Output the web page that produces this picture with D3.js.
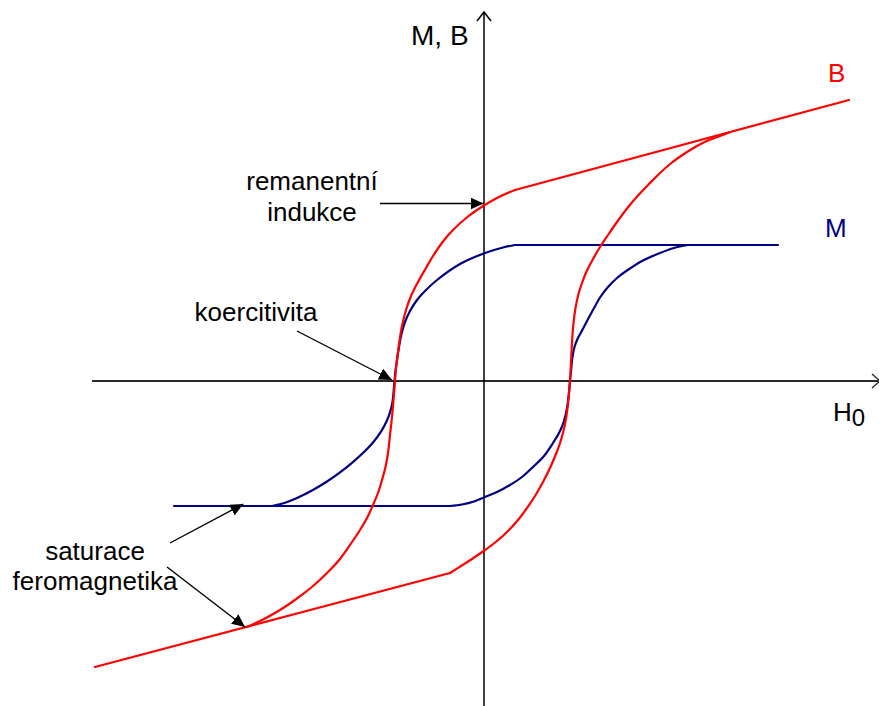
<!DOCTYPE html>
<html>
<head>
<meta charset="utf-8">
<script src="https://cdn.jsdelivr.net/npm/d3@7"></script>
<style>
  html, body { margin: 0; padding: 0; background: #fff; }
  svg { display: block; }
  text { font-family: "Liberation Sans", Arial, sans-serif; fill: #000; }
</style>
</head>
<body>
<svg id="chart" width="879" height="706"></svg>
<script>
// Hysteresis loop of a ferromagnet: magnetisation M and induction B versus field H0
// (arbitrary units). Every branch is a straight saturation section plus a curved section.

// M: saturation plateaus
const mLow = [[-31.0, -12.5], [-3.4, -12.5]];
const mHigh = [[3.1, 13.6], [29.4, 13.6]];
// M: rising curve (leaves the low plateau, joins the high plateau)
const mUpCurve = [
  [-3.4, -12.5], [-2.2, -12.35], [-1.0, -12.05], [0.1, -11.6], [1.3, -11.1],
  [2.6, -10.4], [3.8, -9.6], [4.9, -8.6], [6.0, -7.5], [6.9, -6.2],
  [7.55, -5.1], [8.0, -4.0], [8.3, -2.7], [8.47, -1.4], [8.6, 0.0],
  [8.73, 1.3], [8.86, 2.5], [9.05, 3.4], [9.35, 4.2], [9.75, 4.95],
  [10.3, 6.0], [10.95, 7.2], [11.6, 8.35], [12.4, 9.4], [13.3, 10.3],
  [14.3, 11.05], [15.9, 12.05], [17.6, 12.8], [19.0, 13.3], [20.4, 13.6]
];
// M: falling curve (leaves the high plateau, joins the low plateau)
const mDownCurve = [
  [3.1, 13.6], [1.9, 13.35], [0.1, 12.8], [-2.4, 11.7], [-4.7, 10.1],
  [-5.9, 9.0], [-6.7, 8.1], [-7.4, 7.0], [-7.9, 5.9], [-8.25, 4.7],
  [-8.5, 3.4], [-8.7, 2.1], [-8.85, 1.0], [-8.95, 0.0], [-9.15, -2.09],
  [-9.4, -3.14], [-9.75, -4.05], [-10.3, -5.07], [-11.1, -6.15], [-12.0, -7.1],
  [-13.2, -8.18], [-14.4, -9.14], [-15.7, -10.05], [-17.2, -10.95], [-18.7, -11.7],
  [-19.9, -12.18], [-21.2, -12.5]
];

// B: saturation lines
const bLow = [[-38.9, -28.6], [-3.4, -19.2]];
const bHigh = [[3.1, 19.1], [36.5, 28.1]];
// B: rising curve
const bUpCurve = [
  [-3.4, -19.2], [-2.3, -18.5], [-1.2, -17.8], [0.1, -16.9], [1.3, -16.0],
  [2.4, -15.0], [3.4, -13.9], [4.3, -12.7], [5.1, -11.5], [5.9, -10.1],
  [6.6, -8.7], [7.2, -7.3], [7.7, -5.9], [8.1, -4.3], [8.4, -2.3],
  [8.6, 0.0], [8.7, 1.9], [8.8, 3.8], [8.93, 5.6], [9.15, 7.3],
  [9.45, 8.7], [9.8, 9.8], [10.27, 11.0], [10.9, 12.2], [11.6, 13.4],
  [12.4, 14.6], [13.3, 15.9], [14.3, 17.25], [15.4, 18.55], [16.5, 19.7],
  [17.6, 20.8], [18.8, 21.85], [20.0, 22.7], [21.2, 23.45], [22.4, 24.05],
  [23.6, 24.5], [24.5, 24.85]
];
// B: falling curve
const bDownCurve = [
  [3.1, 19.1], [1.6, 18.45], [0.0, 17.55], [-1.6, 16.45], [-3.1, 15.1],
  [-4.1, 13.95], [-5.1, 12.5], [-5.8, 11.3], [-6.6, 9.9], [-7.3, 8.5],
  [-7.8, 7.1], [-8.2, 5.5], [-8.45, 4.0], [-8.65, 2.5], [-8.8, 1.3],
  [-8.9, 0.0], [-9.05, -1.9], [-9.2, -3.6], [-9.4, -5.4], [-9.6, -7.2],
  [-9.85, -8.6], [-10.2, -9.9], [-10.6, -11.2], [-11.1, -12.4], [-11.7, -13.7],
  [-12.4, -14.9], [-13.4, -16.4], [-14.4, -17.8], [-15.7, -19.2], [-17.1, -20.5],
  [-18.7, -21.75], [-20.4, -22.9], [-22.0, -23.8], [-23.7, -24.6]
];

// Axis extents (data units) and labels
const hExtent = [-39.2, 39.6];
const vExtent = [-32.5, 36.9];
const axisLabels = ["M, B", "H", "0"];
const seriesLabels = ["B", "M"];
const noteRemanence = ["remanentní", "indukce"];
const noteCoercivity = ["koercitivita"];
const noteSaturation = ["saturace", "feromagnetika"];

// Notable points of the loop
const remanence = [0.0, 17.55];     // B at H = 0 on the falling branch
const coercivity = [-8.9, 0.0];     // H where B = 0 on the falling branch
const satM = [-24.07, -12.5];       // on the low M plateau
const satB = [-23.7, -24.6];        // B reaches its saturation line

const svg = d3.select("#chart");
const x = d3.scaleLinear().domain([-39.2, 39.2]).range([92, 876]);
const y = d3.scaleLinear().domain([-39.2, 39.2]).range([773, -11]);

const straight = d3.line().x(d => x(d[0])).y(d => y(d[1]));
const smooth = d3.line().x(d => x(d[0])).y(d => y(d[1]))
  .curve(d3.curveCatmullRom.alpha(0.5));

// arrowheads
svg.append("defs").append("marker")
  .attr("id", "tri")
  .attr("markerUnits", "userSpaceOnUse")
  .attr("viewBox", "0 -6 13 12")
  .attr("refX", 13).attr("refY", 0)
  .attr("markerWidth", 13).attr("markerHeight", 12)
  .attr("orient", "auto")
  .append("path").attr("d", "M0,-6L13,0L0,6Z").attr("fill", "#000");

// axes
const gAxes = svg.append("g");
const x0 = x(0), y0 = y(0), xEnd = x(hExtent[1]), yEnd = y(vExtent[1]);
gAxes.append("line")
  .attr("x1", x(hExtent[0])).attr("x2", xEnd).attr("y1", y0).attr("y2", y0)
  .attr("stroke", "#2a2a2a").attr("stroke-width", 1.8);
gAxes.append("path")
  .attr("d", `M${xEnd - 8},${y0 - 7}L${xEnd},${y0}L${xEnd - 8},${y0 + 7}`)
  .attr("fill", "none").attr("stroke", "#2a2a2a").attr("stroke-width", 1.5);
gAxes.append("line")
  .attr("x1", x0).attr("x2", x0).attr("y1", y(vExtent[0])).attr("y2", yEnd)
  .attr("stroke", "#000").attr("stroke-width", 1.5);
gAxes.append("path")
  .attr("d", `M${x0 - 7},${yEnd + 9}L${x0},${yEnd}L${x0 + 7},${yEnd + 9}`)
  .attr("fill", "none").attr("stroke", "#000").attr("stroke-width", 1.5);

// curves
const blue = "#000080", red = "#ff0000";
function draw(data, gen, color) {
  svg.append("path").datum(data).attr("d", gen)
    .attr("fill", "none").attr("stroke", color).attr("stroke-width", 2.2)
    .attr("stroke-linejoin", "round").attr("stroke-linecap", "round");
}
draw(mLow, straight, blue);
draw(mHigh, straight, blue);
draw(mUpCurve, smooth, blue);
draw(mDownCurve, smooth, blue);
draw(bLow, straight, red);
draw(bHigh, straight, red);
draw(bUpCurve, smooth, red);
draw(bDownCurve, smooth, red);

// axis and series labels
svg.append("text").attr("x", 411).attr("y", 45).attr("font-size", 28).text(axisLabels[0]);
const hLab = svg.append("text").attr("x", 833).attr("y", 421).attr("font-size", 26);
hLab.append("tspan").text(axisLabels[1]);
hLab.append("tspan").attr("dy", 5).attr("font-size", 24).text(axisLabels[2]);
svg.append("text").attr("x", 828).attr("y", 82).attr("font-size", 26)
  .style("fill", red).text(seriesLabels[0]);
svg.append("text").attr("x", 825).attr("y", 237).attr("font-size", 26)
  .style("fill", blue).text(seriesLabels[1]);

// annotations with arrows
const fs = 26;
function block(lines, cx, baseline, gap) {
  const t = svg.append("text").attr("text-anchor", "middle").attr("font-size", fs);
  lines.forEach((s, i) => t.append("tspan").attr("x", cx).attr("y", baseline + i * gap).text(s));
}
function arrow(x1, y1, x2, y2) {
  svg.append("line").attr("x1", x1).attr("y1", y1).attr("x2", x2).attr("y2", y2)
    .attr("stroke", "#000").attr("stroke-width", 1.4).attr("marker-end", "url(#tri)");
}
block(noteRemanence, 312, 190, 31);
arrow(380, y(remanence[1]) - 2, x(remanence[0]) - 0.5, y(remanence[1]) - 2);

block(noteCoercivity, 256, 321, 0);
arrow(297, 331, x(coercivity[0]) - 3, y(coercivity[1]) - 1);

block(noteSaturation, 95, 560, 30);
arrow(170, 543, x(satM[0]), y(satM[1]) - 2);
arrow(167, 567, x(satB[0]) - 2, y(satB[1]));
</script>
</body>
</html>
